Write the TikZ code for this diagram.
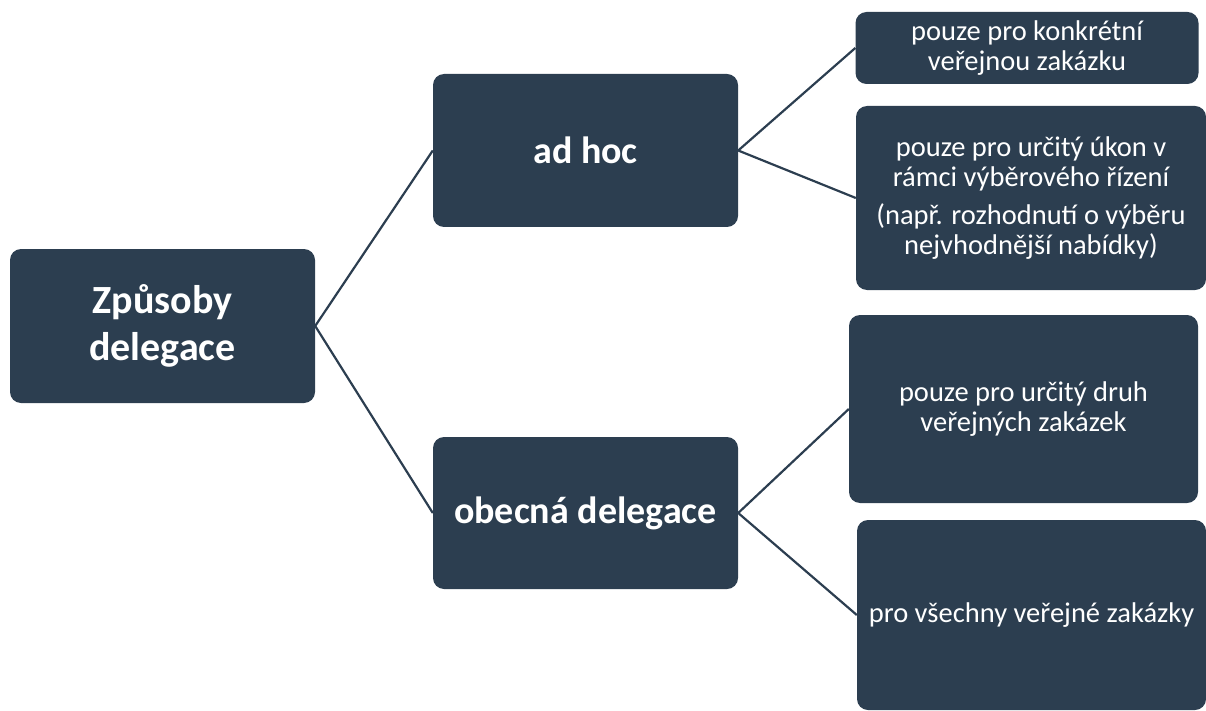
\documentclass[tikz,border=0pt]{standalone}
\usepackage{fontspec}
\setmainfont{Carlito}
\usepackage{tikz}
\definecolor{slate}{RGB}{44,62,80}
\usetikzlibrary{positioning, shapes}
\tikzstyle{block} = [fill=slate, rectangle, rounded corners=11pt, text=white, align=center, inner sep=0pt]
\tikzstyle{head} = [block, font=\bfseries\fontsize{38}{46}\selectfont, minimum width=305pt, minimum height=153pt]
\tikzstyle{leaf} = [block, font=\fontsize{28.5}{30}\selectfont, minimum width=343pt]
\tikzstyle{link} = [draw=slate, line width=2.2pt]

\begin{document}
\begin{tikzpicture}[x=1pt, y=-1pt]
    \useasboundingbox (0,0) rectangle (1206,711);

    % Place the blocks
    \node [head, minimum height=154pt, font=\bfseries\fontsize{40}{47}\selectfont] (root) at (162.5,326) {Způsoby\\delegace};
    \node [head] (adhoc) at (585.5,150.5) {ad hoc};
    \node [head, minimum height=152pt] (general) at (585.5,513) {obecná delegace};
    \node [leaf, minimum height=72pt] (single) at (1027,48) {pouze pro konkrétní\\veřejnou zakázku};
    \node [leaf, minimum height=184pt, minimum width=350pt] (step) at (1031,198)
        {pouze pro určitý úkon v\\rámci výběrového řízení\\[8pt](např. rozhodnutí o výběru\\nejvhodnější nabídky)};
    \node [leaf, minimum height=188pt, minimum width=349pt] (kind) at (1023.5,409) {pouze pro určitý druh\\veřejných zakázek};
    \node [leaf, minimum height=190pt, minimum width=349pt] (all) at (1031.5,615) {pro všechny veřejné zakázky};

    % Connect the nodes
    \draw [link] (root.east) -- (adhoc.west);
    \draw [link] (root.east) -- (general.west);
    \draw [link] (adhoc.east) -- (single.west);
    \draw [link] (adhoc.east) -- (step.west);
    \draw [link] (general.east) -- (kind.west);
    \draw [link] (general.east) -- (all.west);
\end{tikzpicture}
\end{document}
